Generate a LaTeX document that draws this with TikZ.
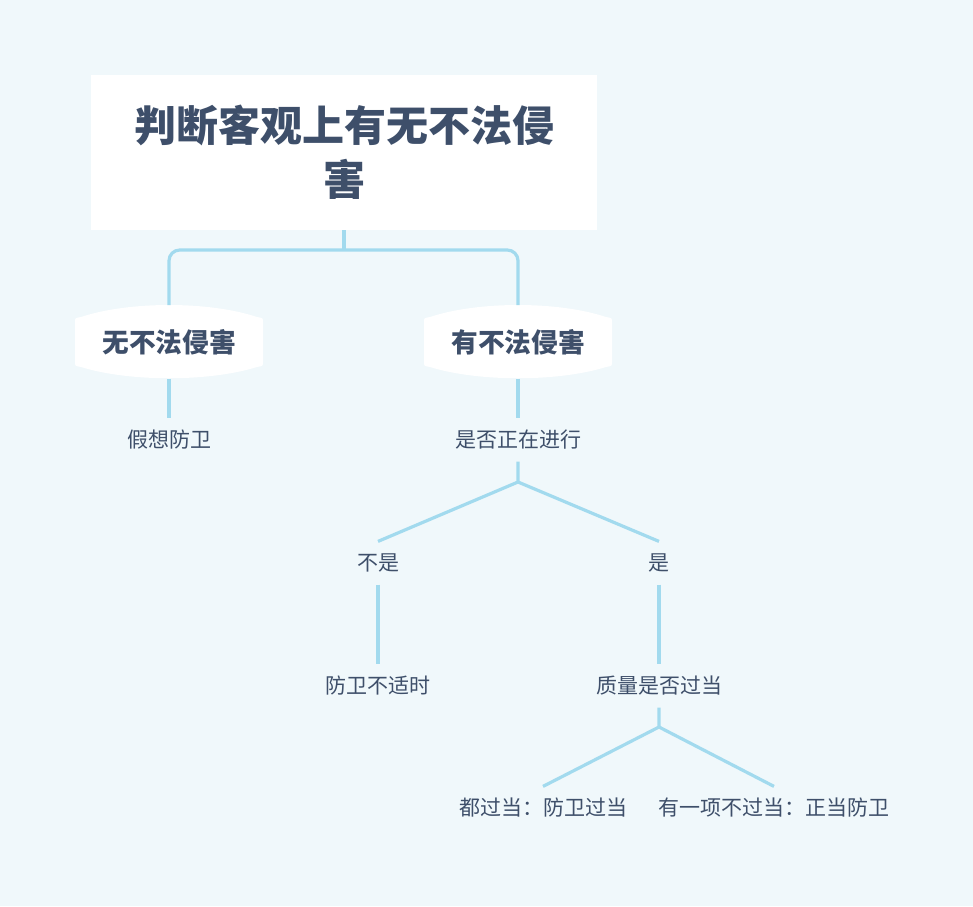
\documentclass[tikz,border=0pt]{standalone}
\usepackage{fontspec}
\setmainfont{Noto Sans CJK SC}
\usetikzlibrary{positioning}
\definecolor{bgfill}{HTML}{F0F8FB}
\definecolor{txtcol}{HTML}{3E4F6A}
\definecolor{linkcol}{HTML}{A2DAEE}
% white box with bulging top and bottom, drawn round a centre (x,y)
\newcommand{\bulgefill}[2]{%
  \fill[white, shift={(#1,#2)}] (-94,-20) .. controls (-94,-24) .. (-88,-25)
    .. controls (-40,-41) and (40,-41) .. (88,-25) .. controls (94,-24) .. (94,-20)
    -- (94,20) .. controls (94,24) .. (88,25)
    .. controls (40,40) and (-40,40) .. (-88,25) .. controls (-94,24) .. (-94,20) -- cycle;}
\begin{document}
\begin{tikzpicture}[x=0.75pt, y=-0.75pt,
  topbox/.style={rectangle, fill=white, minimum width=380pt, minimum height=116pt,
                 align=center, text=txtcol, font=\fontsize{31.5}{40.5}\selectfont\bfseries},
  capbox/.style={minimum width=141pt, minimum height=54.75pt, text=txtcol,
                 font=\fontsize{20}{24}\selectfont\bfseries},
  leafnode/.style={minimum height=32pt, inner xsep=0pt, text=txtcol,
                   font=\fontsize{15.75}{19}\selectfont},
  link/.style={draw=linkcol, line width=2.4pt, line join=round},
]
\fill[bgfill] (0,0) rectangle (973,906);
\useasboundingbox (0,0) rectangle (973,906);
\node[topbox] (root) at (344,152.5) {判断客观上有无不法侵\\害};
\bulgefill{169}{342}
\bulgefill{518}{342}
\node[capbox] (noharm) at (169,342) {无不法侵害};
\node[capbox] (harm)   at (518,342) {有不法侵害};
\node[leafnode] (imagine)   at (169,440) {假想防卫};
\node[leafnode] (ongoing)   at (518,440) {是否正在进行};
\node[leafnode] (notyet)    at (378,563) {不是};
\node[leafnode] (yes)       at (659,563) {是};
\node[leafnode] (untimely)  at (378,686) {防卫不适时};
\node[leafnode] (excess)    at (659,686) {质量是否过当};
\node[leafnode] (allexcess) at (543,808) {都过当：防卫过当};
\node[leafnode] (proper)    at (774,808) {有一项不过当：正当防卫};
\coordinate (fork1) at (344,250);
\coordinate (fork2) at (518,482);
\coordinate (fork3) at (659,727);
% root splits with rounded elbows
\draw[link] (root.south) -- (fork1);
\draw[link, rounded corners=8pt] (noharm.north) |- (fork1) -| (harm.north);
\draw[link] (noharm.south) -- (imagine.north);
\draw[link] (harm.south) -- (ongoing.north);
% forks with slanted branches
\draw[link] (ongoing.south) -- (fork2) -- (notyet.north);
\draw[link] (fork2) -- (yes.north);
\draw[link] (notyet.south) -- (untimely.north);
\draw[link] (yes.south) -- (excess.north);
\draw[link] (excess.south) -- (fork3) -- (allexcess.north);
\draw[link] (fork3) -- (proper.north);
\end{tikzpicture}
\end{document}
